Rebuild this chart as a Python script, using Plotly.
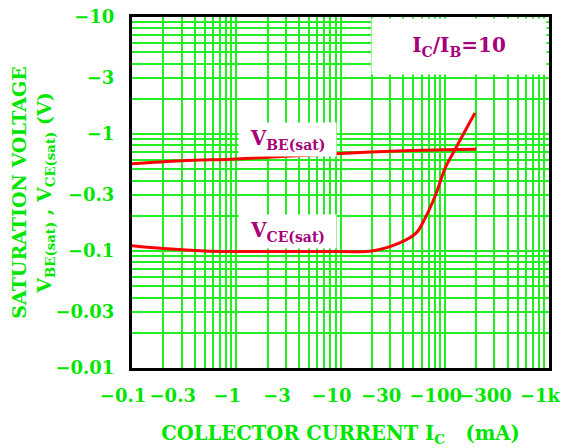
import plotly.graph_objects as go

# ---- data ----
ic_vbe = [0.1, 0.3, 1, 3, 10, 30, 100, 200]
vbe_sat = [0.556, 0.59, 0.612, 0.645, 0.68, 0.712, 0.735, 0.74]

ic_vce = [0.1, 0.2, 0.5, 1, 3, 10, 20, 36, 53, 65, 82, 102, 127, 158, 195]
vce_sat = [0.111, 0.105, 0.1, 0.099, 0.099, 0.099, 0.1, 0.116, 0.142, 0.192,
           0.304, 0.523, 0.75, 1.077, 1.51]

x_tickvals = [0.1, 0.3, 1, 3, 10, 30, 100, 300, 1000]
x_ticktext = ["−0.1", "−0.3", "−1", "−3", "−10", "−30", "−100", "−300", "−1k"]
y_tickvals = [0.01, 0.03, 0.1, 0.3, 1, 3, 10]
y_ticktext = ["−0.01", "−0.03", "−0.1", "−0.3", "−1", "−3", "−10"]

GREEN_TXT = "#00e600"
GRID = "#22ee22"
LABEL = "#a8007a"
FONT = "DejaVu Serif"

fig = go.Figure()
fig.add_trace(go.Scatter(x=ic_vbe, y=vbe_sat, mode="lines", name="VBE(sat)",
                         line=dict(color="#ff0000", width=3, shape="spline"),
                         showlegend=False))
fig.add_trace(go.Scatter(x=ic_vce, y=vce_sat, mode="lines", name="VCE(sat)",
                         line=dict(color="#ff0000", width=3, shape="spline"),
                         showlegend=False))

axis_common = dict(
    type="log",
    automargin=False,
    showgrid=True, gridcolor=GRID, gridwidth=1.8,
    showline=True, linecolor="black", linewidth=3, mirror=True,
    ticks="", zeroline=False,
    ticklabeloverflow="allow",
    tickfont=dict(family=FONT, size=18, color=GREEN_TXT, weight="bold"),
    minor=dict(dtick="D1", showgrid=True, gridcolor=GRID, gridwidth=1.8, ticks=""),
)

fig.update_xaxes(
    **axis_common,
    range=[-1, 3],
    tickangle=0,
    tickmode="array", tickvals=x_tickvals, ticktext=x_ticktext,
    ticklabelshift=-9, ticklabelstandoff=9,
    title=dict(text="COLLECTOR CURRENT I<sub>C</sub>&nbsp;&nbsp;&nbsp;(mA)",
               font=dict(family=FONT, size=19.5, color=GREEN_TXT, weight="bold"),
               standoff=22),
)
fig.update_yaxes(
    **axis_common,
    range=[-2, 1],
    tickmode="array", tickvals=y_tickvals, ticktext=y_ticktext,
    ticklabelstandoff=11,
    title=dict(text="SATURATION VOLTAGE<br>V<sub>BE(sat)</sub> , V<sub>CE(sat)</sub> (V)",
               font=dict(family=FONT, size=19, color=GREEN_TXT, weight="bold"),
               standoff=8),
)

# page body adds an 8px offset; figure coordinates below are screen - 8
lab_font = dict(family=FONT, size=20, color=LABEL, weight="bold")
fig.add_annotation(xref="paper", yref="paper", x=(287 - 132) / 417, y=(360 - 137) / 343,
                   text="V<sub>BE(sat)</sub>", showarrow=False, font=lab_font,
                   bgcolor="white", width=95, height=31)
fig.add_annotation(xref="paper", yref="paper", x=(287 - 132) / 417, y=(360 - 227) / 343,
                   text="V<sub>CE(sat)</sub>", showarrow=False, font=lab_font,
                   bgcolor="white", width=95, height=31)
fig.add_annotation(xref="paper", yref="paper", x=(547 - 132) / 417, y=(360 - 18) / 343,
                   xanchor="right", yanchor="top",
                   text="I<sub>C</sub>/I<sub>B</sub>=10", showarrow=False, font=lab_font,
                   bgcolor="white", width=172, height=53)

fig.update_layout(
    width=560, height=440,
    margin=dict(l=124, r=19, t=9, b=80),
    paper_bgcolor="white", plot_bgcolor="white",
    showlegend=False,
)

fig.write_html("out.html")
